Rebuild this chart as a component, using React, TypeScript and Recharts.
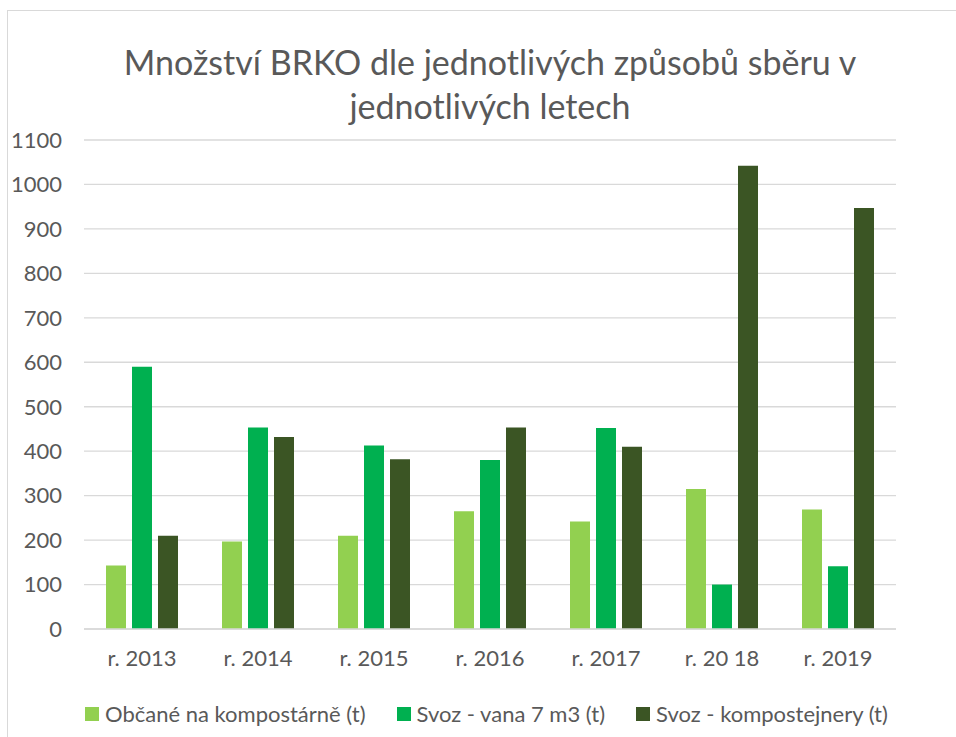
import React from 'react';
import { BarChart, Bar, XAxis, YAxis, CartesianGrid } from 'recharts';

const years = ['r. 2013', 'r. 2014', 'r. 2015', 'r. 2016', 'r. 2017', 'r. 20 18', 'r. 2019'];
const obcane = [143, 197, 210, 265, 242, 315, 269];
const vana = [590, 453, 413, 380, 452, 100, 141];
const kontejnery = [210, 432, 382, 453, 410, 1042, 947];
const yTicks = [0, 100, 200, 300, 400, 500, 600, 700, 800, 900, 1000, 1100];

const series = [
  { key: 'obcane', name: 'Občané na kompostárně (t)', color: '#92d050' },
  { key: 'vana', name: 'Svoz - vana 7 m3 (t)', color: '#00b050' },
  { key: 'kontejnery', name: 'Svoz - kompostejnery (t)', color: '#3b5524' },
];

const data = years.map((year, i) => ({
  year,
  obcane: obcane[i],
  vana: vana[i],
  kontejnery: kontejnery[i],
}));

const FONT = 'Lato, "Open Sans", sans-serif';
const TEXT = '#595959';

export default function App() {
  return (
    <div style={{ position: 'absolute', left: 0, top: 0, width: 956, height: 737, overflow: 'hidden', background: '#fff', fontFamily: FONT }}>
      {/* chart frame */}
      <div style={{ position: 'absolute', left: 7, top: 10, width: 1000, height: 800, border: '1px solid #d9d9d9' }} />

      <div style={{ position: 'absolute', left: 84, width: 812, top: 40, textAlign: 'center', fontSize: 34, lineHeight: '44px', color: TEXT }}>
        Množství BRKO dle jednotlivých způsobů sběru v<br />jednotlivých letech
      </div>

      <div style={{ position: 'absolute', left: 0, top: 0 }}>
        <BarChart
          width={956}
          height={737}
          data={data}
          margin={{ top: 140, right: 60, bottom: 78, left: 0 }}
          barCategoryGap="19%"
          barGap={6}
        >
          <CartesianGrid vertical={false} stroke="#d9d9d9" strokeWidth={1.3} />
          <XAxis
            dataKey="year"
            axisLine={{ stroke: '#d9d9d9', strokeWidth: 1.5 }}
            tickLine={false}
            tickMargin={15}
            tick={{ fill: TEXT, fontSize: 22, fontFamily: FONT }}
            interval={0}
          />
          <YAxis
            width={84}
            domain={[0, 1100]}
            ticks={yTicks}
            interval={0}
            axisLine={false}
            tickLine={false}
            tickMargin={16}
            tick={{ fill: TEXT, fontSize: 22, fontFamily: FONT }}
          />
          {series.map((s) => (
            <Bar key={s.key} dataKey={s.key} name={s.name} fill={s.color} barSize={20} isAnimationActive={false} />
          ))}
        </BarChart>
      </div>

      <div style={{ position: 'absolute', top: 700, left: 85, display: 'flex', alignItems: 'center', fontSize: 22, lineHeight: '28px', color: TEXT }}>
        {series.map((s) => (
          <div key={s.key} style={{ display: 'flex', alignItems: 'center', marginRight: 31 }}>
            <div style={{ width: 14, height: 14, background: s.color, marginRight: 6 }} />
            <span>{s.name}</span>
          </div>
        ))}
      </div>
    </div>
  );
}
